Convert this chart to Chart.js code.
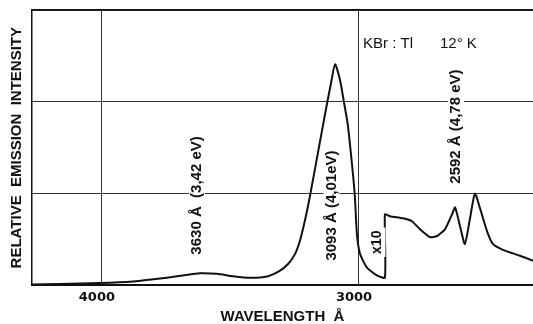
<!DOCTYPE html>
<html>
<head>
<meta charset="utf-8">
<script src="https://cdn.jsdelivr.net/npm/chart.js@4"></script>
<style>
  html, body { margin: 0; padding: 0; background: #fff; }
  #wrap { width: 533px; height: 324px; }
</style>
</head>
<body>
<div id="wrap"><canvas id="spectrum"></canvas></div>
<script>
// emission spectrum (right of 2899 A is the x10 part)
const wavelengths = [4272, 4163, 4008, 3879, 3747, 3685, 3619, 3553, 3490, 3424, 3358, 3307, 3276, 3249,
  3230, 3210, 3191, 3160, 3125, 3109, 3093, 3074, 3058, 3043, 3023, 3016, 3008, 2996, 2969, 2930, 2899,
  2899, 2879, 2829, 2794, 2763, 2724, 2696, 2665, 2638, 2626, 2607, 2588, 2568, 2549, 2529, 2502, 2479,
  2440, 2374, 2323];
const intensities = [0.01, 0.016, 0.025, 0.043, 0.083, 0.108, 0.132, 0.126, 0.10, 0.083, 0.097, 0.161, 0.233, 0.341,
  0.484, 0.71, 0.968, 1.44, 1.97, 2.20, 2.41, 2.24, 1.99, 1.74, 1.20, 0.968, 0.559, 0.344, 0.194, 0.108, 0.086,
  0.774, 0.753, 0.731, 0.699, 0.613, 0.527, 0.538, 0.613, 0.774, 0.849, 0.645, 0.452, 0.731, 1.0, 0.839, 0.591, 0.452,
  0.387, 0.323, 0.269];
const xTicks = [4000, 3000];
const xRange = [2323, 4272];
const yRange = [0, 3];

// text notes, anchored in data units
const notes = [
  { text: '3630 Å  (3,42 eV)', x: 3630, y: 0.98, rotate: true, size: 15 },
  { text: '3093 Å (4,01eV)', x: 3107, y: 0.87, rotate: true, size: 15 },
  { text: '2592 Å (4,78 eV)', x: 2623, y: 1.73, rotate: true, size: 15 },
  { text: 'x10', x: 2928, y: 0.47, rotate: true, size: 14 },
  { text: 'KBr : Tl', x: 2984, y: 2.63, rotate: false, size: 15 },
  { text: '12° K', x: 2685, y: 2.63, rotate: false, size: 15 }
];

const ink = '#111';

const notePlugin = {
  id: 'notes',
  afterDatasetsDraw(chart) {
    const ctx = chart.ctx;
    const xs = chart.scales.x, ys = chart.scales.y;
    ctx.save();
    notes.forEach(n => {
      const px = xs.getPixelForValue(n.x);
      const py = ys.getPixelForValue(n.y);
      ctx.fillStyle = ink;
      if (n.rotate) {
        ctx.font = 'bold ' + n.size + 'px "Liberation Sans", Arial, sans-serif';
        const w = ctx.measureText(n.text).width;
        ctx.translate(px, py);
        ctx.rotate(-Math.PI / 2);
        ctx.fillStyle = '#fff';
        ctx.fillRect(-w / 2 - 3, -8, w + 6, 16);
        ctx.fillStyle = ink;
        ctx.textAlign = 'center';
        ctx.textBaseline = 'middle';
        ctx.fillText(n.text, 0, 0);
        ctx.setTransform(1, 0, 0, 1, 0, 0);
      } else {
        ctx.font = n.size + 'px "Liberation Sans", Arial, sans-serif';
        ctx.textAlign = 'left';
        ctx.textBaseline = 'middle';
        ctx.fillText(n.text, px, py);
      }
    });
    ctx.restore();
  }
};

new Chart(document.getElementById('spectrum'), {
  type: 'line',
  data: {
    datasets: [{
      data: wavelengths.map((w, i) => ({ x: w, y: intensities[i] })),
      borderColor: ink,
      borderWidth: 2,
      pointRadius: 0,
      tension: 0.2,
      fill: false
    }]
  },
  options: {
    responsive: true,
    maintainAspectRatio: false,
    animation: false,
    layout: { padding: { left: 8, top: 10, right: 0, bottom: 0 } },
    plugins: { legend: { display: false }, tooltip: { enabled: false } },
    scales: {
      x: {
        type: 'linear',
        reverse: true,
        min: xRange[0],
        max: xRange[1],
        afterBuildTicks: axis => { axis.ticks = xTicks.map(v => ({ value: v })); },
        grid: { color: '#333', lineWidth: 1, drawTicks: false },
        border: { color: ink, width: 2 },
        ticks: {
          color: ink,
          padding: 4,
          maxRotation: 0,
          labelOffset: -5,
          font: { family: '"DejaVu Sans", sans-serif', weight: 'bold', size: 13 },
          callback: v => String(v)
        },
        title: {
          display: true,
          text: 'WAVELENGTH  Å',
          color: ink,
          padding: { top: 0, bottom: 0 },
          font: { family: '"Liberation Sans", sans-serif', weight: 'bold', size: 15, lineHeight: 1 }
        }
      },
      xTop: {
        type: 'linear',
        position: 'top',
        min: xRange[0],
        max: xRange[1],
        grid: { display: false, drawTicks: false },
        ticks: { display: false },
        border: { color: ink, width: 1.5 }
      },
      y: {
        min: yRange[0],
        max: yRange[1],
        ticks: { display: false, stepSize: 1 },
        grid: { color: '#333', lineWidth: 1, drawTicks: false },
        border: { color: ink, width: 1.5 },
        title: {
          display: true,
          text: 'RELATIVE  EMISSION  INTENSITY',
          color: ink,
          padding: { top: 0, bottom: 6 },
          font: { family: '"Liberation Sans", sans-serif', weight: 'bold', size: 15 }
        }
      }
    }
  },
  plugins: [notePlugin]
});
</script>
</body>
</html>
